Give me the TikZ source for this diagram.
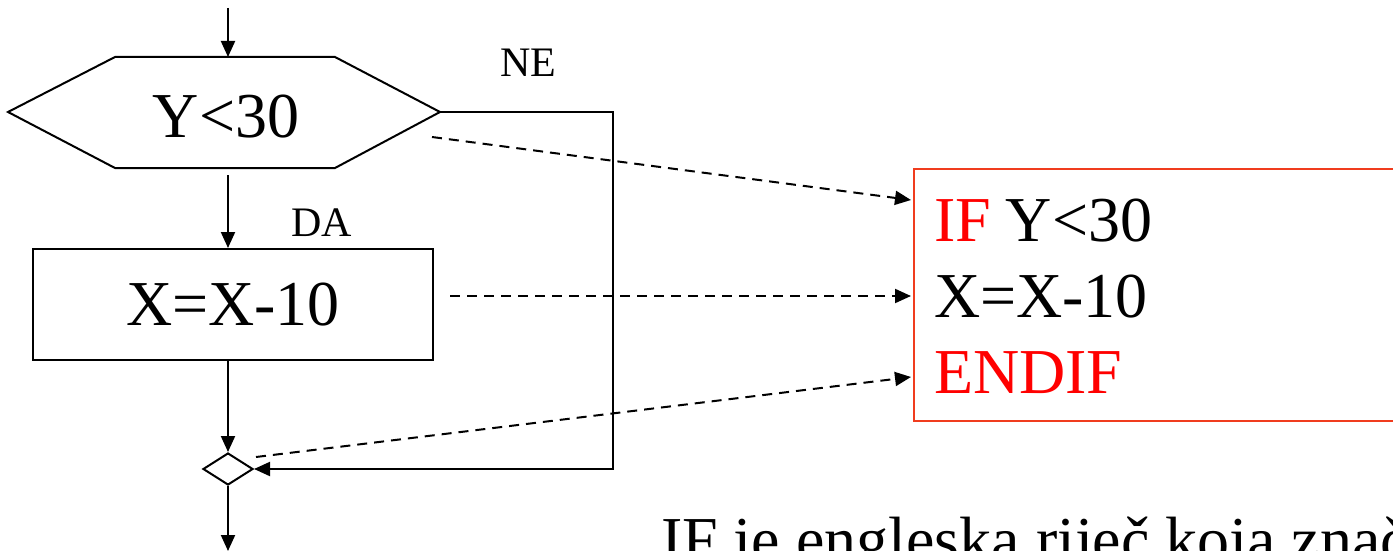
\documentclass[tikz,border=0pt]{standalone}
\usepackage{fontspec}
\setmainfont{Liberation Serif}
\usetikzlibrary{arrows.meta, shapes.geometric}
\definecolor{boxred}{RGB}{240,60,30}

\begin{document}
\begin{tikzpicture}[x=1pt, y=-1pt, line width=2pt,
    >={Triangle[length=16pt, width=14pt]},
    big/.style={font=\fontsize{64}{70}\selectfont},
    small/.style={font=\fontsize{42}{46}\selectfont}]
    \useasboundingbox (0,0) rectangle (1393,551);
    \clip (0,0) rectangle (1393,551);

    % Define blocks
    \coordinate (start) at (228,8);
    \coordinate (hex-n) at (228,57);
    \coordinate (hex-s) at (228,175);
    \coordinate (hex-e) at (440,112);
    \draw (8,112) -- (115,57) -- (335,57) -- (hex-e) -- (335,168) -- (115,168) -- cycle;
    \node[big, anchor=base] (cond) at (226,137) {Y<30};
    \node[draw, minimum width=400pt, minimum height=111pt, inner sep=0pt, big] (calc) at (233,304.5) {X=X-10};
    \node[draw, diamond, minimum width=50pt, minimum height=32pt, inner sep=0pt] (merge) at (228,469) {};
    \coordinate (exit) at (228,551);

    % Labels
    \node[small, anchor=base] (ne) at (528,77) {NE};
    \node[small, anchor=base] (da) at (322,236) {DA};

    % Code box
    \node[draw=boxred, anchor=north west, minimum width=520pt, minimum height=252pt] (code) at (913,168) {};
    \node[big, anchor=base west, text=red, inner sep=0pt] (ifkw) at (933,241) {IF};
    \node[big, anchor=base west, inner sep=0pt] (ifcond) at ([xshift=13pt]ifkw.base east) {Y<30};
    \node[big, anchor=base west, inner sep=0pt] (body) at (933,317) {X=X-10};
    \node[big, anchor=base west, text=red, inner sep=0pt] (endif) at (933,393) {ENDIF};
    \coordinate (in-if) at (911,200);
    \coordinate (in-body) at (911,296);
    \coordinate (in-endif) at (911,377);

    % Note below
    \node[big, anchor=base west, inner sep=0pt] (note) at (660,561) {IF je engleska riječ koja znači};

    % Flow
    \draw[->] (start) -- (hex-n);
    \draw[->] (hex-s) -- (calc.north -| hex-s);
    \draw[->] (calc.south -| merge) -- (merge.north);
    \draw[->] (merge.south) -- (exit);
    \draw[->] (hex-e) -- (613,112) -- (613,469) -- (merge.east);

    % Mapping to code
    \draw[->, dash pattern=on 10pt off 7pt] (432,137) -- (in-if);
    \draw[->, dash pattern=on 10pt off 7pt] (450,296) -- (in-body);
    \draw[->, dash pattern=on 10pt off 7pt] (256,457) -- (in-endif);

\end{tikzpicture}
\end{document}
